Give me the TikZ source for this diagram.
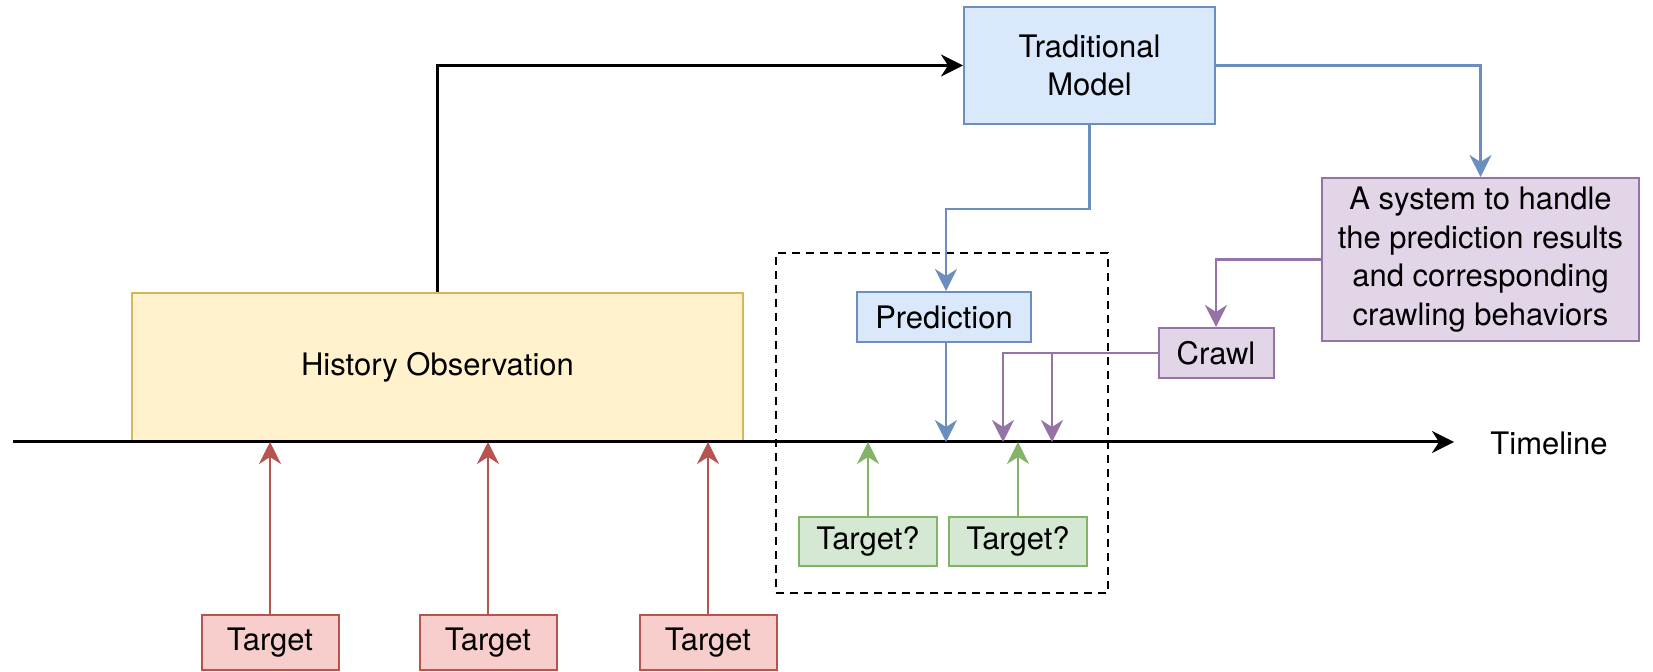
\documentclass[tikz,border=0pt]{standalone}
\usepackage{fontspec}
\setmainfont{TeX Gyre Heros}
\usetikzlibrary{arrows.meta}

\definecolor{bluefill}{HTML}{DAE8FC}
\definecolor{blueline}{HTML}{6C8EBF}
\definecolor{yellowfill}{HTML}{FFF2CC}
\definecolor{yellowline}{HTML}{D6B656}
\definecolor{redfill}{HTML}{F8CECC}
\definecolor{redline}{HTML}{B85450}
\definecolor{greenfill}{HTML}{D5E8D4}
\definecolor{greenline}{HTML}{82B366}
\definecolor{purplefill}{HTML}{E1D5E7}
\definecolor{purpleline}{HTML}{9673A6}

\tikzset{
  box/.style={draw, line width=1pt, inner sep=0pt, align=center,
    font=\fontsize{15.5}{19.25}\selectfont},
  bluebox/.style={box, draw=blueline, fill=bluefill},
  yellowbox/.style={box, draw=yellowline, fill=yellowfill},
  redbox/.style={box, draw=redline, fill=redfill, minimum width=68.5pt, minimum height=27.5pt},
  greenbox/.style={box, draw=greenline, fill=greenfill, minimum width=69pt, minimum height=24.5pt},
  purplebox/.style={box, draw=purpleline, fill=purplefill},
  tip/.tip={Stealth[length=11pt,width=11pt,inset=3.5pt]},
  conn/.style={line width=1.2pt, -tip},
  blueconn/.style={conn, draw=blueline},
  purpleconn/.style={conn, draw=purpleline},
  redconn/.style={conn, draw=redline},
  greenconn/.style={conn, draw=greenline},
  blackconn/.style={line width=1.5pt, -tip},
  window/.style={draw, line width=1.25pt, dash pattern=on 4pt off 3pt, inner sep=0pt,
    minimum width=166pt, minimum height=170pt},
  plain/.style={inner sep=0pt, font=\fontsize{15.5}{19.25}\selectfont}
}

\begin{document}
\begin{tikzpicture}[x=0.5pt, y=-0.5pt]
  \useasboundingbox (0,0) rectangle (1653,672);

  % window around the uncertain future part of the timeline
  \node[window] (win) at (942,423) {};

  % boxes
  \node[bluebox, minimum width=125.5pt, minimum height=58.5pt] (tm) at (1089.5,65.5) {Traditional\\Model};
  \node[purplebox, minimum width=158.5pt, minimum height=81.5pt] (sys) at (1480.5,259.5)
    {A system to handle\\the prediction results\\and corresponding\\crawling behaviors};
  \node[bluebox, minimum width=87pt, minimum height=25pt] (pred) at (944,317) {Prediction};
  \node[purplebox, minimum width=57.5pt, minimum height=25pt] (crawl) at (1216,353) {Crawl};
  \node[yellowbox, minimum width=305.5pt, minimum height=74.5pt] (ho) at (437.5,367.5) {History Observation};

  \node[redbox] (r1) at (270,642.5) {Target};
  \node[redbox] (r2) at (488,642.5) {Target};
  \node[redbox] (r3) at (708,642.5) {Target};

  \node[greenbox] (g1) at (868,541.5) {Target?};
  \node[greenbox] (g2) at (1018,541.5) {Target?};

  % timeline
  \coordinate (tl0) at (13,442);
  \coordinate (tl1) at (1454,442);
  \draw[blackconn] (tl0) -- (tl1);
  \node[plain] (tllabel) at (1549,443) {Timeline};

  % model connectors
  \draw[blackconn] (ho.north) |- (tm.west);
  \draw[blueconn] (tm.east) -| (sys.north);
  \coordinate (bend) at (946,209);
  \draw[blueconn] (tm.south) |- (bend) -- (bend |- pred.north);
  \coordinate (predhit) at (946,442);
  \draw[blueconn] (predhit |- pred.south) -- (predhit);

  % crawling connectors
  \draw[purpleconn] (sys.west) -| (crawl.north);
  \coordinate (c1) at (1003,442);
  \coordinate (c2) at (1052,442);
  \draw[purpleconn] (crawl.west) -| (c1);
  \draw[purpleconn] (c2 |- crawl.west) -- (c2);

  % observed targets
  \foreach \t in {r1,r2,r3}{
    \draw[redconn] (\t.north) -- (\t.north |- tl0);
  }
  % possible future targets
  \foreach \t in {g1,g2}{
    \draw[greenconn] (\t.north) -- (\t.north |- tl0);
  }
\end{tikzpicture}
\end{document}
